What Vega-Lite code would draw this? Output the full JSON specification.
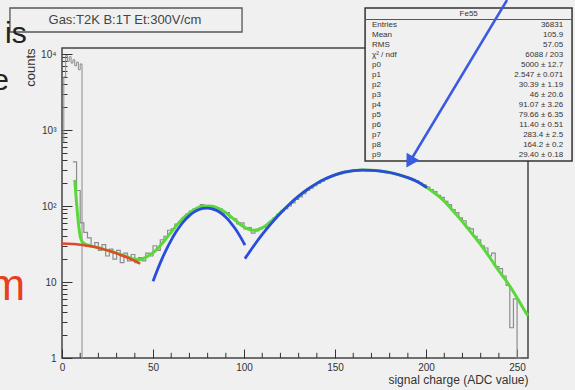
{
  "$schema": "https://vega.github.io/schema/vega-lite/v6.json",
  "width": 466,
  "height": 310,
  "autosize": {"type": "none"},
  "padding": {"left": 62, "top": 48, "right": 47, "bottom": 32},
  "background": "#f0f0f0",
  "config": {
    "view": {"stroke": "#444", "strokeWidth": 1.5, "fill": "#f0f0f0"},
    "font": "Liberation Sans",
    "axis": {"labelFont": "Liberation Sans", "titleFont": "Liberation Sans", "grid": false, "domain": false, "tickColor": "#333", "tickWidth": 1, "labelColor": "#333", "titleColor": "#333", "labelFontSize": 10, "titleFontSize": 13, "titleFontWeight": "normal", "labelOverlap": false}
  },
  "datasets": {
    "minor": [{"t":10},{"t":20},{"t":30},{"t":40},{"t":60},{"t":70},{"t":80},{"t":90},{"t":110},{"t":120},{"t":130},{"t":140},{"t":160},{"t":170},{"t":180},{"t":190},{"t":210},{"t":220},{"t":230},{"t":240}],
    "hist": [
      {"s":"ped","x":0,"n":700},{"s":"ped","x":1,"n":5000},{"s":"ped","x":2,"n":9500},{"s":"ped","x":3,"n":8000},{"s":"ped","x":4,"n":9200},{"s":"ped","x":5,"n":7600},{"s":"ped","x":6,"n":8400},{"s":"ped","x":7,"n":7000},{"s":"ped","x":8,"n":7800},{"s":"ped","x":9,"n":6200},{"s":"ped","x":10,"n":7400},{"s":"ped","x":11,"n":1},{"s":"ped","x":12,"n":1},
      {"s":"sig","x":6,"n":380},{"s":"sig","x":8,"n":160},{"s":"sig","x":10,"n":60},{"s":"sig","x":12,"n":45},{"s":"sig","x":14,"n":38},{"s":"sig","x":16,"n":30},{"s":"sig","x":18,"n":33},{"s":"sig","x":20,"n":26},{"s":"sig","x":22,"n":31},{"s":"sig","x":24,"n":22},{"s":"sig","x":26,"n":27},{"s":"sig","x":28,"n":20},{"s":"sig","x":30,"n":26},{"s":"sig","x":32,"n":18},{"s":"sig","x":34,"n":24},{"s":"sig","x":36,"n":19},{"s":"sig","x":38,"n":23},{"s":"sig","x":40,"n":18},{"s":"sig","x":42,"n":21},{"s":"sig","x":44,"n":19},{"s":"sig","x":46,"n":24},{"s":"sig","x":48,"n":22},{"s":"sig","x":50,"n":30},{"s":"sig","x":52,"n":26},{"s":"sig","x":54,"n":36},{"s":"sig","x":56,"n":40},{"s":"sig","x":58,"n":48},{"s":"sig","x":60,"n":50},{"s":"sig","x":62,"n":58},{"s":"sig","x":64,"n":62},{"s":"sig","x":66,"n":70},{"s":"sig","x":68,"n":78},{"s":"sig","x":70,"n":86},{"s":"sig","x":72,"n":92},{"s":"sig","x":74,"n":95},{"s":"sig","x":76,"n":104},{"s":"sig","x":78,"n":98},{"s":"sig","x":80,"n":100},{"s":"sig","x":82,"n":95},{"s":"sig","x":84,"n":90},{"s":"sig","x":86,"n":92},{"s":"sig","x":88,"n":80},{"s":"sig","x":90,"n":82},{"s":"sig","x":92,"n":70},{"s":"sig","x":94,"n":68},{"s":"sig","x":96,"n":58},{"s":"sig","x":98,"n":60},{"s":"sig","x":100,"n":50},{"s":"sig","x":102,"n":52},{"s":"sig","x":104,"n":44},{"s":"sig","x":106,"n":47},{"s":"sig","x":108,"n":50},{"s":"sig","x":110,"n":52},{"s":"sig","x":112,"n":57},{"s":"sig","x":114,"n":62},{"s":"sig","x":116,"n":70},{"s":"sig","x":118,"n":78},{"s":"sig","x":120,"n":85},{"s":"sig","x":122,"n":92},{"s":"sig","x":124,"n":100},{"s":"sig","x":126,"n":110},{"s":"sig","x":128,"n":122},{"s":"sig","x":130,"n":132},{"s":"sig","x":132,"n":145},{"s":"sig","x":134,"n":160},{"s":"sig","x":136,"n":172},{"s":"sig","x":138,"n":185},{"s":"sig","x":140,"n":198},{"s":"sig","x":142,"n":210},{"s":"sig","x":144,"n":225},{"s":"sig","x":146,"n":240},{"s":"sig","x":148,"n":250},{"s":"sig","x":150,"n":258},{"s":"sig","x":152,"n":265},{"s":"sig","x":154,"n":278},{"s":"sig","x":156,"n":282},{"s":"sig","x":158,"n":290},{"s":"sig","x":160,"n":292},{"s":"sig","x":162,"n":296},{"s":"sig","x":164,"n":300},{"s":"sig","x":166,"n":294},{"s":"sig","x":168,"n":298},{"s":"sig","x":170,"n":292},{"s":"sig","x":172,"n":290},{"s":"sig","x":174,"n":285},{"s":"sig","x":176,"n":280},{"s":"sig","x":178,"n":275},{"s":"sig","x":180,"n":270},{"s":"sig","x":182,"n":262},{"s":"sig","x":184,"n":255},{"s":"sig","x":186,"n":250},{"s":"sig","x":188,"n":240},{"s":"sig","x":190,"n":235},{"s":"sig","x":192,"n":225},{"s":"sig","x":194,"n":215},{"s":"sig","x":196,"n":200},{"s":"sig","x":198,"n":190},{"s":"sig","x":200,"n":178},{"s":"sig","x":202,"n":165},{"s":"sig","x":204,"n":155},{"s":"sig","x":206,"n":138},{"s":"sig","x":208,"n":130},{"s":"sig","x":210,"n":115},{"s":"sig","x":212,"n":104},{"s":"sig","x":214,"n":90},{"s":"sig","x":216,"n":82},{"s":"sig","x":218,"n":70},{"s":"sig","x":220,"n":64},{"s":"sig","x":222,"n":52},{"s":"sig","x":224,"n":50},{"s":"sig","x":226,"n":40},{"s":"sig","x":228,"n":36},{"s":"sig","x":230,"n":30},{"s":"sig","x":232,"n":28},{"s":"sig","x":234,"n":22},{"s":"sig","x":236,"n":24},{"s":"sig","x":238,"n":16},{"s":"sig","x":240,"n":15},{"s":"sig","x":242,"n":12},{"s":"sig","x":244,"n":9},{"s":"sig","x":246,"n":2.5},{"s":"sig","x":248,"n":6},{"s":"sig","x":250,"n":1},{"s":"sig","x":252,"n":1}
    ],
    "fit": [
      {"c":"tot","x":7,"v":220},{"c":"tot","x":8,"v":110},{"c":"tot","x":9,"v":60},{"c":"tot","x":10,"v":40},{"c":"tot","x":11,"v":34},{"c":"tot","x":12,"v":32.5},{"c":"tot","x":15,"v":30.2},{"c":"tot","x":20,"v":28.3},{"c":"tot","x":25,"v":26.1},{"c":"tot","x":30,"v":24},{"c":"tot","x":35,"v":21.8},{"c":"tot","x":40,"v":20},{"c":"tot","x":42.5,"v":19.6},{"c":"tot","x":45,"v":20.6},{"c":"tot","x":47.5,"v":22.2},{"c":"tot","x":50,"v":24.3},{"c":"tot","x":52.5,"v":27.5},{"c":"tot","x":55,"v":32.1},{"c":"tot","x":57.5,"v":38.1},{"c":"tot","x":60,"v":45.4},{"c":"tot","x":62.5,"v":53.9},{"c":"tot","x":65,"v":63},{"c":"tot","x":67.5,"v":72.3},{"c":"tot","x":70,"v":81.2},{"c":"tot","x":72.5,"v":88.7},{"c":"tot","x":75,"v":96.1},{"c":"tot","x":77.5,"v":99.5},{"c":"tot","x":80,"v":100.3},{"c":"tot","x":82.5,"v":99.2},{"c":"tot","x":85,"v":95},{"c":"tot","x":87.5,"v":88.9},{"c":"tot","x":90,"v":81.4},{"c":"tot","x":92.5,"v":73.3},{"c":"tot","x":95,"v":65.4},{"c":"tot","x":97.5,"v":58.4},{"c":"tot","x":100,"v":53},{"c":"tot","x":102.5,"v":49.5},{"c":"tot","x":105,"v":48.1},{"c":"tot","x":107.5,"v":48.8},{"c":"tot","x":110,"v":51.8},{"c":"tot","x":112.5,"v":56.5},{"c":"tot","x":115,"v":63.6},{"c":"tot","x":117.5,"v":71.7},{"c":"tot","x":120,"v":81.9},{"c":"tot","x":125,"v":106.3},{"c":"tot","x":130,"v":135},{"c":"tot","x":135,"v":166},{"c":"tot","x":140,"v":198},{"c":"tot","x":145,"v":229},{"c":"tot","x":150,"v":257},{"c":"tot","x":155,"v":278},{"c":"tot","x":160,"v":292},{"c":"tot","x":165,"v":297},{"c":"tot","x":170,"v":295},{"c":"tot","x":175,"v":288},{"c":"tot","x":180,"v":276},{"c":"tot","x":185,"v":258},{"c":"tot","x":190,"v":236},{"c":"tot","x":195,"v":210},{"c":"tot","x":200,"v":178},{"c":"tot","x":205,"v":146},{"c":"tot","x":210,"v":116},{"c":"tot","x":215,"v":85},{"c":"tot","x":220,"v":62},{"c":"tot","x":225,"v":44},{"c":"tot","x":230,"v":31},{"c":"tot","x":235,"v":21},{"c":"tot","x":240,"v":14},{"c":"tot","x":245,"v":9.6},{"c":"tot","x":250,"v":6.2},{"c":"tot","x":255,"v":3.9},{"c":"tot","x":256,"v":3.6},
      {"c":"bg","x":0,"v":32},{"c":"bg","x":3,"v":31.9},{"c":"bg","x":6,"v":31.6},{"c":"bg","x":9,"v":31.2},{"c":"bg","x":12,"v":30.5},{"c":"bg","x":15,"v":29.7},{"c":"bg","x":18,"v":28.8},{"c":"bg","x":21,"v":27.7},{"c":"bg","x":24,"v":26.5},{"c":"bg","x":27,"v":25.2},{"c":"bg","x":30,"v":23.8},{"c":"bg","x":33,"v":22.3},{"c":"bg","x":36,"v":20.9},{"c":"bg","x":39,"v":19.4},{"c":"bg","x":42,"v":17.9},{"c":"bg","x":43,"v":17.4},
      {"c":"g1","x":50,"v":10.2},{"c":"g1","x":52.5,"v":14.6},{"c":"g1","x":55,"v":20.3},{"c":"g1","x":57.5,"v":27.3},{"c":"g1","x":60,"v":35.6},{"c":"g1","x":62.5,"v":45},{"c":"g1","x":65,"v":55},{"c":"g1","x":67.5,"v":65.1},{"c":"g1","x":70,"v":74.7},{"c":"g1","x":72.5,"v":82.9},{"c":"g1","x":75,"v":89.3},{"c":"g1","x":77.5,"v":93},{"c":"g1","x":80,"v":94},{"c":"g1","x":82.5,"v":91.9},{"c":"g1","x":85,"v":87},{"c":"g1","x":87.5,"v":79.9},{"c":"g1","x":90,"v":71},{"c":"g1","x":92.5,"v":61.1},{"c":"g1","x":95,"v":50.9},{"c":"g1","x":97.5,"v":41.1},{"c":"g1","x":100,"v":32.2},{"c":"g1","x":100.5,"v":30.5},
      {"c":"g2","x":100.5,"v":20.3},{"c":"g2","x":105,"v":29.1},{"c":"g2","x":110,"v":42.2},{"c":"g2","x":115,"v":59.2},{"c":"g2","x":120,"v":80.4},{"c":"g2","x":125,"v":105.8},{"c":"g2","x":130,"v":134.8},{"c":"g2","x":135,"v":166.2},{"c":"g2","x":140,"v":198.4},{"c":"g2","x":145,"v":229.5},{"c":"g2","x":150,"v":256.9},{"c":"g2","x":155,"v":278.4},{"c":"g2","x":160,"v":292.2},{"c":"g2","x":165,"v":297},{"c":"g2","x":170,"v":295},{"c":"g2","x":175,"v":288},{"c":"g2","x":180,"v":276},{"c":"g2","x":185,"v":258},{"c":"g2","x":190,"v":236},{"c":"g2","x":195,"v":210},{"c":"g2","x":200,"v":178},{"c":"g2","x":200.5,"v":175}
    ],
    "stats": [
      {"k":1,"l":"Entries","v":"36831"},
      {"k":2,"l":"Mean","v":"105.9"},
      {"k":3,"l":"RMS","v":"57.05"},
      {"k":4,"l":"χ² / ndf","v":"6088 / 203"},
      {"k":5,"l":"p0","v":"5000 ± 12.7"},
      {"k":6,"l":"p1","v":"2.547 ± 0.071"},
      {"k":7,"l":"p2","v":"30.39 ± 1.19"},
      {"k":8,"l":"p3","v":"46 ± 20.6"},
      {"k":9,"l":"p4","v":"91.07 ± 3.26"},
      {"k":10,"l":"p5","v":"79.66 ± 6.35"},
      {"k":11,"l":"p6","v":"11.40 ± 0.51"},
      {"k":12,"l":"p7","v":"283.4 ± 2.5"},
      {"k":13,"l":"p8","v":"164.2 ± 0.2"},
      {"k":14,"l":"p9","v":"29.40 ± 0.18"}
    ]
  },
  "layer": [
    {
      "layer": [
        {
          "data": {"name": "hist"},
          "transform": [{"filter": "datum.s === 'ped'"}],
          "mark": {"type": "line", "interpolate": "step-after", "color": "#8c8c8c", "strokeWidth": 1},
          "encoding": {
            "x": {"field": "x", "type": "quantitative", "scale": {"domain": [0, 256], "nice": false, "zero": false},
              "axis": {"title": "signal charge (ADC value)", "titleAnchor": "end", "titlePadding": 2, "titleFontSize": 12, "labelOverlap": false, "values": [0, 50, 100, 150, 200, 250], "labelFlush": false, "labelPadding": 13, "tickSize": -9}},
            "y": {"field": "n", "type": "quantitative", "scale": {"type": "log", "domain": [1, 12000], "nice": false},
              "axis": {"title": "counts", "titleAnchor": "end", "titlePadding": 3, "labelOverlap": false, "values": [1,2,3,4,5,6,7,8,9,10,20,30,40,50,60,70,80,90,100,200,300,400,500,600,700,800,900,1000,2000,3000,4000,5000,6000,7000,8000,9000,10000],
                "labelExpr": "datum.value === 1 ? '1' : datum.value === 10 ? '10' : datum.value === 100 ? '10²' : datum.value === 1000 ? '10³' : datum.value === 10000 ? '10⁴' : ''",
                "labelPadding": 16, "labelFlush": false,
                "tickSize": {"condition": {"test": "indexof([1,10,100,1000,10000], datum.value) >= 0", "value": -10}, "value": -5}}}
          }
        },
        {
          "data": {"name": "minor"},
          "mark": {"type": "rule", "color": "#333", "strokeWidth": 1},
          "encoding": {
            "x": {"field": "t", "type": "quantitative", "scale": {"domain": [0, 256], "nice": false, "zero": false}},
            "y": {"datum": 1, "type": "quantitative", "scale": {"type": "log", "domain": [1, 12000], "nice": false}},
            "y2": {"datum": 1.17}
          }
        },
        {
          "data": {"name": "hist"},
          "transform": [{"filter": "datum.s === 'sig'"}],
          "mark": {"type": "line", "interpolate": "step-after", "color": "#8c8c8c", "strokeWidth": 1.2},
          "encoding": {
            "x": {"field": "x", "type": "quantitative", "scale": {"domain": [0, 256], "nice": false, "zero": false}},
            "y": {"field": "n", "type": "quantitative", "scale": {"type": "log", "domain": [1, 12000], "nice": false}}
          }
        },
        {
          "data": {"name": "fit"},
          "transform": [{"filter": "datum.c === 'tot'"}],
          "mark": {"type": "line", "interpolate": "monotone", "color": "#5ad83a", "strokeWidth": 3},
          "encoding": {
            "x": {"field": "x", "type": "quantitative", "scale": {"domain": [0, 256], "nice": false, "zero": false}},
            "y": {"field": "v", "type": "quantitative", "scale": {"type": "log", "domain": [1, 12000], "nice": false}}
          }
        },
        {
          "data": {"name": "fit"},
          "transform": [{"filter": "datum.c === 'bg'"}],
          "mark": {"type": "line", "interpolate": "monotone", "color": "#e0482a", "strokeWidth": 2.5},
          "encoding": {
            "x": {"field": "x", "type": "quantitative", "scale": {"domain": [0, 256], "nice": false, "zero": false}},
            "y": {"field": "v", "type": "quantitative", "scale": {"type": "log", "domain": [1, 12000], "nice": false}}
          }
        },
        {
          "data": {"name": "fit"},
          "transform": [{"filter": "datum.c === 'g1' || datum.c === 'g2'"}],
          "mark": {"type": "line", "interpolate": "monotone", "color": "#2a4bdc", "strokeWidth": 2.8},
          "encoding": {
            "x": {"field": "x", "type": "quantitative", "scale": {"domain": [0, 256], "nice": false, "zero": false}},
            "y": {"field": "v", "type": "quantitative", "scale": {"type": "log", "domain": [1, 12000], "nice": false}},
            "detail": {"field": "c"}
          }
        }
      ]
    },
    {
      "layer": [
        {
          "data": {"values": [{}]},
          "mark": {"type": "rect", "fill": "#f0f0f0", "stroke": "#555", "strokeWidth": 1.3},
          "encoding": {
            "x": {"datum": -28.6, "type": "quantitative", "scale": {"domain": [0, 256], "nice": false, "zero": false}},
            "x2": {"datum": 98.9},
            "y": {"datum": -0.7, "type": "quantitative", "scale": {"domain": [3.3, 34.3], "reverse": true, "nice": false, "zero": false}, "axis": null},
            "y2": {"datum": 1.7}
          }
        },
        {
          "data": {"values": [{"t": "Gas:T2K B:1T Et:300V/cm"}]},
          "mark": {"type": "text", "fontSize": 13, "color": "#444", "font": "Liberation Sans", "baseline": "middle", "align": "center"},
          "encoding": {
            "text": {"field": "t"},
            "x": {"datum": 34.6, "type": "quantitative", "scale": {"domain": [0, 256], "nice": false, "zero": false}},
            "y": {"datum": 0.5, "type": "quantitative", "scale": {"domain": [3.3, 34.3], "reverse": true, "nice": false, "zero": false}, "axis": null}
          }
        },
        {
          "data": {"values": [{}]},
          "mark": {"type": "rect", "fill": "#f0f0f0", "stroke": "#333", "strokeWidth": 1.5},
          "encoding": {
            "x": {"datum": 166.5, "type": "quantitative", "scale": {"domain": [0, 256], "nice": false, "zero": false}},
            "x2": {"datum": 280.2},
            "y": {"datum": -0.7, "type": "quantitative", "scale": {"domain": [3.3, 34.3], "reverse": true, "nice": false, "zero": false}, "axis": null},
            "y2": {"datum": 14.6}
          }
        },
        {
          "data": {"values": [{}]},
          "mark": {"type": "rule", "color": "#555", "strokeWidth": 1},
          "encoding": {
            "x": {"datum": 166.5, "type": "quantitative", "scale": {"domain": [0, 256], "nice": false, "zero": false}},
            "x2": {"datum": 280.2},
            "y": {"datum": 0.45, "type": "quantitative", "scale": {"domain": [3.3, 34.3], "reverse": true, "nice": false, "zero": false}, "axis": null}
          }
        },
        {
          "data": {"values": [{"t": "Fe55"}]},
          "mark": {"type": "text", "fontSize": 8, "color": "#333", "baseline": "middle", "align": "center"},
          "encoding": {
            "text": {"field": "t"},
            "x": {"datum": 223.4, "type": "quantitative", "scale": {"domain": [0, 256], "nice": false, "zero": false}},
            "y": {"datum": -0.1, "type": "quantitative", "scale": {"domain": [3.3, 34.3], "reverse": true, "nice": false, "zero": false}, "axis": null}
          }
        },
        {
          "data": {"name": "stats"},
          "mark": {"type": "text", "fontSize": 8, "color": "#333", "baseline": "middle", "align": "left"},
          "encoding": {
            "text": {"field": "l"},
            "x": {"datum": 170.3, "type": "quantitative", "scale": {"domain": [0, 256], "nice": false, "zero": false}},
            "y": {"field": "k", "type": "quantitative", "scale": {"domain": [3.3, 34.3], "reverse": true, "nice": false, "zero": false}, "axis": null}
          }
        },
        {
          "data": {"name": "stats"},
          "mark": {"type": "text", "fontSize": 8, "color": "#333", "baseline": "middle", "align": "right"},
          "encoding": {
            "text": {"field": "v"},
            "x": {"datum": 275.3, "type": "quantitative", "scale": {"domain": [0, 256], "nice": false, "zero": false}},
            "y": {"field": "k", "type": "quantitative", "scale": {"domain": [3.3, 34.3], "reverse": true, "nice": false, "zero": false}, "axis": null}
          }
        },
        {
          "data": {"values": [{}]},
          "mark": {"type": "rule", "color": "#3a5ae0", "strokeWidth": 2.5},
          "encoding": {
            "x": {"datum": 244.5, "type": "quantitative", "scale": {"domain": [0, 256], "nice": false, "zero": false}},
            "x2": {"datum": 191},
            "y": {"datum": -1.5, "type": "quantitative", "scale": {"domain": [3.3, 34.3], "reverse": true, "nice": false, "zero": false}, "axis": null},
            "y2": {"datum": 14.7}
          }
        },
        {
          "data": {"values": [{}]},
          "mark": {"type": "point", "shape": "triangle-up", "filled": true, "color": "#3a5ae0", "opacity": 1, "size": 220, "angle": 211},
          "encoding": {
            "x": {"datum": 191, "type": "quantitative", "scale": {"domain": [0, 256], "nice": false, "zero": false}},
            "y": {"datum": 14.7, "type": "quantitative", "scale": {"domain": [3.3, 34.3], "reverse": true, "nice": false, "zero": false}, "axis": null}
          }
        },
        {
          "data": {"values": [{"t": "is"}]},
          "mark": {"type": "text", "fontSize": 30, "color": "#222", "align": "left", "baseline": "alphabetic", "font": "Liberation Sans"},
          "encoding": {
            "text": {"field": "t"},
            "x": {"datum": -31.3, "type": "quantitative", "scale": {"domain": [0, 256], "nice": false, "zero": false}},
            "y": {"datum": 2.8, "type": "quantitative", "scale": {"domain": [3.3, 34.3], "reverse": true, "nice": false, "zero": false}, "axis": null}
          }
        },
        {
          "data": {"values": [{"t": "e"}]},
          "mark": {"type": "text", "fontSize": 30, "color": "#222", "align": "right", "baseline": "alphabetic", "font": "Liberation Sans"},
          "encoding": {
            "text": {"field": "t"},
            "x": {"datum": -29.1, "type": "quantitative", "scale": {"domain": [0, 256], "nice": false, "zero": false}},
            "y": {"datum": 7.5, "type": "quantitative", "scale": {"domain": [3.3, 34.3], "reverse": true, "nice": false, "zero": false}, "axis": null}
          }
        },
        {
          "data": {"values": [{"t": "m"}]},
          "mark": {"type": "text", "fontSize": 44, "color": "#e8401e", "align": "right", "baseline": "alphabetic", "font": "Liberation Sans"},
          "encoding": {
            "text": {"field": "t"},
            "x": {"datum": -20.3, "type": "quantitative", "scale": {"domain": [0, 256], "nice": false, "zero": false}},
            "y": {"datum": 28.5, "type": "quantitative", "scale": {"domain": [3.3, 34.3], "reverse": true, "nice": false, "zero": false}, "axis": null}
          }
        }
      ]
    }
  ],
  "resolve": {"scale": {"y": "independent"}, "axis": {"y": "independent"}}
}
